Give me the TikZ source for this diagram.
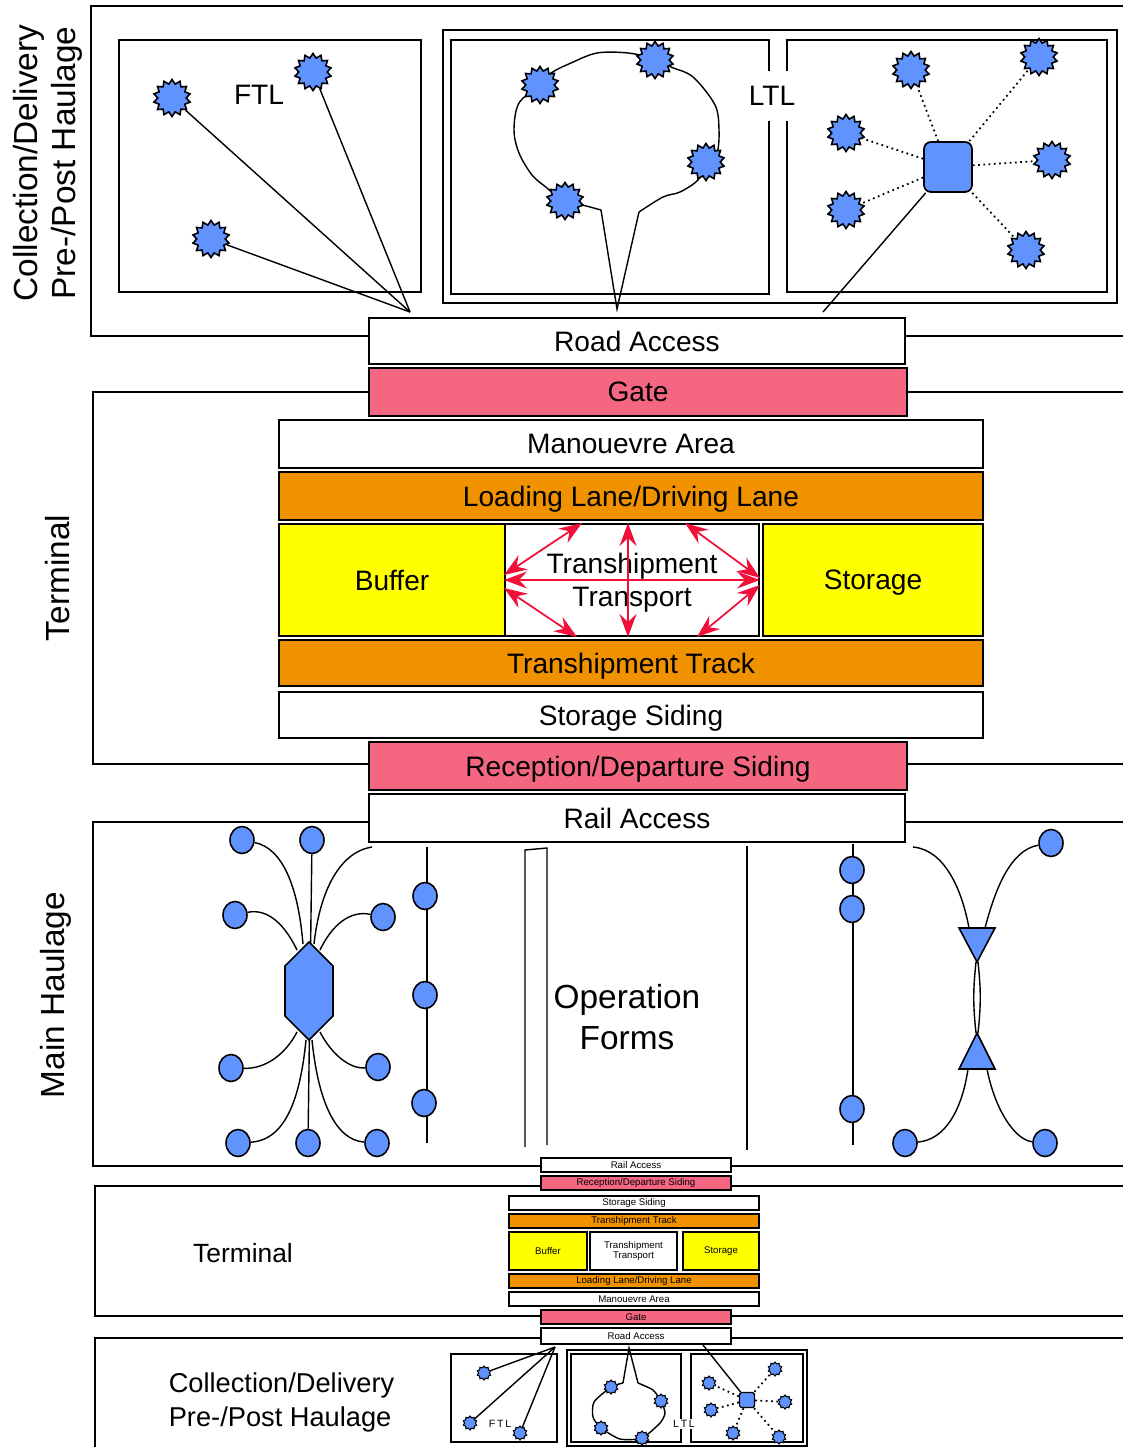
\documentclass[tikz,border=0pt]{standalone}
\usepackage{fontspec}
\setmainfont{Liberation Sans}
\setsansfont{Liberation Sans}
\usetikzlibrary{arrows.meta,shapes.geometric,calc}
\definecolor{TermPink}{HTML}{F56781}
\definecolor{TermOrange}{HTML}{F09100}
\definecolor{TermYellow}{HTML}{FFFF00}
\definecolor{SiteBlue}{HTML}{6193FF}
\definecolor{FlowRed}{HTML}{F0103A}

\begin{document}
\begin{tikzpicture}[x=0.02cm,y=-0.02cm,line width=1.1pt,
  bx/.style={draw,inner sep=0pt,text depth=0pt,font=\fontsize{16}{19}\selectfont},
  mbx/.style={draw,inner sep=0pt,line width=0.7pt,font=\fontsize{5.5}{5.8}\selectfont},
  site/.style={star,star points=14,star point ratio=1.3,draw,fill=SiteBlue,line width=0.9pt,inner sep=0pt,minimum size=0.74cm},
  msite/.style={site,star points=10,minimum size=0.28cm,line width=0.6pt},
  stop/.style={ellipse,draw,fill=SiteBlue,inner sep=0pt,minimum width=0.48cm,minimum height=0.54cm,line width=0.9pt},
  link/.style={line width=0.8pt},
  spoke/.style={line width=1pt,dotted},
  flow/.style={FlowRed,line width=1pt,{Stealth[length=4.6mm,width=3.4mm,inset=1.6mm]}-{Stealth[length=4.6mm,width=3.4mm,inset=1.6mm]}},
  side/.style={rotate=90,align=center,font=\fontsize{19}{22}\selectfont}]

  \useasboundingbox (0,0) rectangle (1123,1447);

  % --- Collection/Delivery (top) ---
  \draw (369,336) -- (91,336) -- (91,6) -- (1123,6);
  \draw (905,336) -- (1123,336);
  \node[side] (cdlabel) at (48,163) {Collection/Delivery\\Pre-/Post Haulage};
  % FTL
  \draw (119,40) rectangle (421,292);
  \node[font=\fontsize{16}{19}\selectfont] (ftl) at (259,95) {FTL};
  \coordinate (ftlEnd) at (410,312);
  \node[site] (ftlA) at (172,98) {};
  \node[site] (ftlB) at (313,72) {};
  \node[site] (ftlC) at (211,239) {};
  \draw[link] (ftlA) -- (ftlEnd);
  \draw[link] (ftlB) -- (ftlEnd);
  \draw[link] (ftlC) -- (ftlEnd);
  % LTL
  \draw (443,30) rectangle (1117,303);
  \draw (451,40) rectangle (769,294);
  \draw (787,40) rectangle (1107,292);
  \node[fill=white,minimum height=1cm,font=\fontsize{16}{19}\selectfont] (ltl) at (772,96) {LTL};
  \draw[link] plot[smooth,tension=0.55] coordinates {(601,210) (582,205) (564,202) (547,188) (532,175) (519,153) (514,130) (519,103) (540,85) (551,73) (571,63) (597,53) (628,53) (655,59) (671,67) (693,77) (715,105) (719,130) (717,153) (707,163) (698,180) (680,192) (663,197) (639,212)};
  \draw[link] (601,210) -- (617,309) -- (639,212);
  \node[site] (loopA) at (540,85) {};
  \node[site] (loopB) at (655,60) {};
  \node[site] (loopC) at (706,162) {};
  \node[site] (loopD) at (565,201) {};
  \node[draw,fill=SiteBlue,rounded corners=4pt,minimum width=0.96cm,minimum height=1cm,line width=1pt] (ltlHub) at (948,167) {};
  \node[site] (spA) at (911,70) {};
  \node[site] (spB) at (1039,57) {};
  \node[site] (spC) at (846,133) {};
  \node[site] (spD) at (1052,160) {};
  \node[site] (spE) at (846,210) {};
  \node[site] (spF) at (1026,250) {};
  \foreach \s in {spA,spB,spC,spD,spE,spF}
    \draw[spoke] (ltlHub) -- (\s);
  \coordinate (ltlEnd) at (823,312);
  \draw[link] (ltlHub) -- (ltlEnd);

  % --- Terminal ---
  \draw (369,392) -- (93,392) -- (93,764) -- (369,764);
  \draw (907,392) -- (1123,392);
  \draw (907,764) -- (1123,764);
  \node[side] (termlabel) at (58,578) {Terminal};
  \node[bx,minimum width=10.72cm,minimum height=0.92cm] (road) at (637,341) {Road Access};
  \node[bx,fill=TermPink,minimum width=10.76cm,minimum height=0.96cm] (gate) at (638,392) {Gate};
  \node[bx,minimum width=14.08cm,minimum height=0.96cm] (manoeuvre) at (631,444) {Manouevre Area};
  \node[bx,fill=TermOrange,minimum width=14.08cm,minimum height=0.96cm] (loading) at (631,496) {Loading Lane/Driving Lane};
  \node[bx,fill=TermYellow,minimum width=4.52cm,minimum height=2.24cm] (buffer) at (392,580) {Buffer};
  \node[bx,align=center,minimum width=5.08cm,minimum height=2.24cm] (tt) at (632,580) {Transhipment\\Transport};
  \node[bx,fill=TermYellow,minimum width=4.4cm,minimum height=2.24cm] (storage) at (873,580) {Storage};
  \node[bx,fill=TermOrange,minimum width=14.08cm,minimum height=0.92cm] (track) at (631,663) {Transhipment Track};
  \node[bx,minimum width=14.08cm,minimum height=0.92cm] (siding) at (631,715) {Storage Siding};
  \node[bx,fill=TermPink,minimum width=10.76cm,minimum height=0.96cm] (reception) at (638,766) {Reception/Departure Siding};
  \node[bx,minimum width=10.72cm,minimum height=0.96cm] (rail) at (637,818) {Rail Access};
  % transhipment moves
  \draw[flow] (tt.west) -- (tt.east);
  \draw[flow] ($(tt.north)+(-4,0)$) -- ($(tt.south)+(-4,0)$);
  \draw[flow] ($(tt.west)+(0,-5)$) -- ($(tt.north)+(-50,0)$);
  \draw[flow] ($(tt.north)+(53,0)$) -- ($(tt.east)+(0,-2)$);
  \draw[flow] ($(tt.west)+(0,8)$) -- ($(tt.south)+(-55,0)$);
  \draw[flow] ($(tt.south)+(65,0)$) -- ($(tt.east)+(0,5)$);

  % --- Main Haulage ---
  \draw (369,822) -- (93,822) -- (93,1166) -- (541,1166);
  \draw (905,822) -- (1123,822);
  \draw (731,1166) -- (1123,1166);
  \node[side] (mhlabel) at (56,995) {Main Haulage};
  % hub and spoke
  \node[stop] (hsA) at (242,840) {};
  \node[stop] (hsB) at (312,840) {};
  \node[stop] (hsC) at (235,915) {};
  \node[stop] (hsD) at (383,917) {};
  \node[stop] (hsE) at (231,1068) {};
  \node[stop] (hsF) at (378,1067) {};
  \node[stop] (hsG) at (238,1143) {};
  \node[stop] (hsH) at (308,1143) {};
  \node[stop] (hsI) at (377,1143) {};
  \coordinate (hsFree) at (372,847);
  \draw[link] (hsB) -- (hsH);
  \draw[link] (303,944) .. controls (298,885) and (282,848) .. (hsA);
  \draw[link] (297,950) .. controls (285,925) and (268,908) .. (hsC);
  \draw[link] (314,944) .. controls (320,890) and (340,852) .. (hsFree);
  \draw[link] (320,950) .. controls (332,925) and (350,910) .. (hsD);
  \draw[link] (297,1032) .. controls (285,1055) and (265,1069) .. (hsE);
  \draw[link] (320,1032) .. controls (332,1055) and (350,1069) .. (hsF);
  \draw[link] (306,1040) .. controls (300,1100) and (285,1140) .. (hsG);
  \draw[link] (312,1040) .. controls (318,1100) and (335,1140) .. (hsI);
  \draw[fill=SiteBlue,line width=0.9pt] (309,942) -- (333,966) -- (333,1016) -- (309,1040) -- (285,1016) -- (285,966) -- cycle;
  % line train
  \coordinate (lineTop) at (427,847);
  \coordinate (lineBot) at (427,1143);
  \draw[link] (lineTop) -- (lineBot);
  \node[stop] (lnA) at (425,896) {};
  \node[stop] (lnB) at (425,995) {};
  \node[stop] (lnC) at (424,1103) {};
  % operation forms
  \draw[link] (525,1147) -- (525,850) -- (547,848) -- (547,1145);
  \draw[link] (747,846) -- (747,1150);
  \node[align=center,font=\fontsize{19}{23}\selectfont] (opforms) at (627,1017) {Operation\\Forms};
  % shuttle train
  \coordinate (shTop) at (853,844);
  \coordinate (shBot) at (853,1145);
  \draw[link] (shTop) -- (shBot);
  \node[stop] (shA) at (852,870) {};
  \node[stop] (shB) at (852,909) {};
  \node[stop] (shC) at (852,1109) {};
  % gateway
  \coordinate (gwFree) at (913,847);
  \node[stop] (gwA) at (1051,843) {};
  \node[stop] (gwB) at (905,1143) {};
  \node[stop] (gwC) at (1045,1143) {};
  \draw[link] (gwFree) .. controls (945,850) and (962,890) .. (969,928);
  \draw[link] (985,928) .. controls (995,890) and (1010,850) .. (gwA);
  \draw[link] (976,962) .. controls (973,990) and (973,1005) .. (976,1033);
  \draw[link] (978,962) .. controls (981,990) and (981,1005) .. (978,1033);
  \draw[link] (968,1069) .. controls (962,1110) and (945,1140) .. (gwB);
  \draw[link] (987,1069) .. controls (995,1110) and (1015,1140) .. (gwC);
  \draw[fill=SiteBlue,line width=0.9pt] (959,928) -- (995,928) -- (977,962) -- cycle;
  \draw[fill=SiteBlue,line width=0.9pt] (977,1033) -- (995,1069) -- (959,1069) -- cycle;

  % --- Terminal (small, mirrored) ---
  \draw (541,1186) -- (95,1186) -- (95,1316) -- (541,1316);
  \draw (731,1186) -- (1123,1186);
  \draw (731,1316) -- (1123,1316);
  \node[font=\fontsize{15}{18}\selectfont] (mtermlabel) at (243,1253) {Terminal};
  \node[mbx,minimum width=3.8cm,minimum height=0.28cm] (mrail) at (636,1165) {Rail Access};
  \node[mbx,fill=TermPink,minimum width=3.8cm,minimum height=0.28cm] (mreception) at (636,1183) {Reception/Departure Siding};
  \node[mbx,minimum width=5cm,minimum height=0.28cm] (msiding) at (634,1203) {Storage Siding};
  \node[mbx,fill=TermOrange,minimum width=5cm,minimum height=0.28cm] (mtrack) at (634,1221) {Transhipment Track};
  \node[mbx,fill=TermYellow,minimum width=1.56cm,minimum height=0.76cm] (mbuffer) at (548,1251) {Buffer};
  \node[mbx,align=center,minimum width=1.74cm,minimum height=0.76cm] (mtt) at (633.5,1251) {Transhipment\\Transport};
  \node[mbx,fill=TermYellow,minimum width=1.52cm,minimum height=0.76cm] (mstorage) at (721,1251) {Storage};
  \node[mbx,fill=TermOrange,minimum width=5cm,minimum height=0.28cm] (mloading) at (634,1281) {Loading Lane/Driving Lane};
  \node[mbx,minimum width=5cm,minimum height=0.28cm] (mmanoeuvre) at (634,1299) {Manouevre Area};
  \node[mbx,fill=TermPink,minimum width=3.8cm,minimum height=0.28cm] (mgate) at (636,1317) {Gate};
  \node[mbx,minimum width=3.8cm,minimum height=0.32cm] (mroad) at (636,1336) {Road Access};

  % --- Collection/Delivery (small, mirrored) ---
  \draw (541,1338) -- (95,1338) -- (95,1447);
  \draw (731,1338) -- (1123,1338);
  \node[anchor=west,align=left,font=\fontsize{15.5}{19.3}\selectfont] (mcdlabel) at (162,1402) {Collection/Delivery\\Pre-/Post Haulage};
  % FTL
  \draw[line width=0.8pt] (451,1354) rectangle (557,1442);
  \node[font=\fontsize{6}{7}\selectfont] (mftl) at (500,1424) {F\,T\,L};
  \coordinate (mftlEnd) at (555,1347);
  \node[msite] (mftlA) at (484,1373) {};
  \node[msite] (mftlB) at (470,1423) {};
  \node[msite] (mftlC) at (520,1433) {};
  \draw[link] (mftlA) -- (mftlEnd);
  \draw[link] (mftlB) -- (mftlEnd);
  \draw[link] (mftlC) -- (mftlEnd);
  % LTL
  \draw[line width=0.8pt] (567,1350) rectangle (807,1446);
  \draw[line width=0.8pt] (571,1354) rectangle (681,1442);
  \draw[line width=0.8pt] (691,1354) rectangle (803,1442);
  \node[fill=white,inner sep=1pt,font=\fontsize{6}{7}\selectfont] (mltl) at (684,1424) {L\,T\,L};
  \draw[link] plot[smooth,tension=0.4] coordinates {(623,1383) (611,1387) (594,1402) (593,1417) (601,1428) (620,1439) (642,1438) (660,1423) (665,1413) (661,1401) (653,1390) (638,1383)};
  \draw[link] (623,1383) -- (629,1348) -- (638,1383);
  \node[msite] (mloopA) at (611,1387) {};
  \node[msite] (mloopB) at (661,1401) {};
  \node[msite] (mloopC) at (601,1428) {};
  \node[msite] (mloopD) at (642,1438) {};
  \node[draw,fill=SiteBlue,rounded corners=1pt,minimum size=0.3cm,inner sep=0pt,line width=0.8pt] (mHub) at (747,1400) {};
  \node[msite] (mspA) at (709,1383) {};
  \node[msite] (mspB) at (775,1369) {};
  \node[msite] (mspC) at (785,1402) {};
  \node[msite] (mspD) at (711,1410) {};
  \node[msite] (mspE) at (733,1433) {};
  \node[msite] (mspF) at (779,1437) {};
  \foreach \s in {mspA,mspB,mspC,mspD,mspE,mspF}
    \draw[spoke] (mHub) -- (\s);
  \coordinate (mltlEnd) at (703,1345);
  \draw[link] (mHub) -- (mltlEnd);
\end{tikzpicture}
\end{document}
